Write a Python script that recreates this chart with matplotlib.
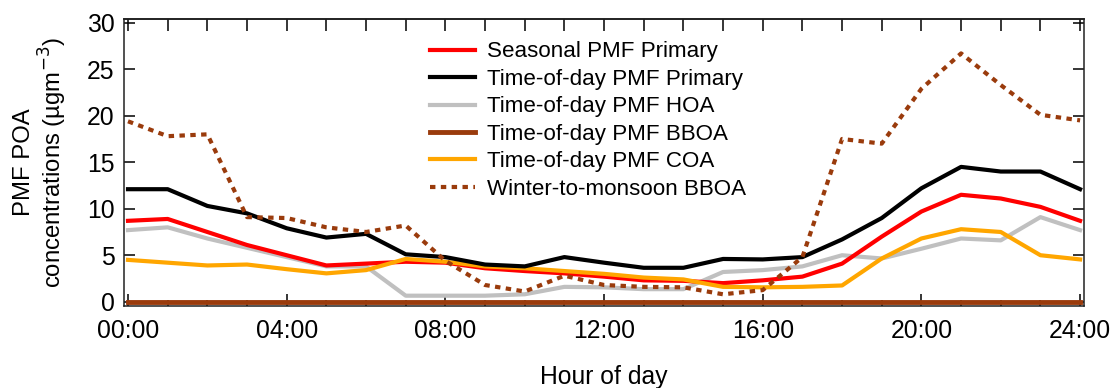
import numpy as np
import matplotlib
matplotlib.use("Agg")
import matplotlib.pyplot as plt
from matplotlib.ticker import MultipleLocator

plt.rcParams['font.family'] = ['Liberation Sans', 'DejaVu Sans']

hours = np.arange(25)
seasonal_primary = [8.7, 8.9, 7.5, 6.1, 5.0, 3.9, 4.1, 4.3, 4.2, 3.6, 3.3, 3.05, 2.7,
                    2.3, 2.25, 2.0, 2.3, 2.7, 4.1, 7.0, 9.7, 11.5, 11.1, 10.2, 8.7]
tod_primary = [12.1, 12.1, 10.3, 9.5, 7.9, 6.9, 7.3, 5.1, 4.8, 4.0, 3.8, 4.8, 4.2,
               3.65, 3.65, 4.6, 4.55, 4.8, 6.7, 9.0, 12.2, 14.5, 14.0, 14.0, 12.1]
tod_hoa = [7.7, 8.0, 6.8, 5.8, 4.8, 3.8, 3.8, 0.65, 0.65, 0.65, 0.8, 1.6, 1.55,
           1.35, 1.35, 3.2, 3.4, 3.8, 5.0, 4.65, 5.7, 6.8, 6.6, 9.1, 7.7]
tod_bboa = [0.0] * 25
tod_coa = [4.5, 4.2, 3.9, 4.0, 3.5, 3.05, 3.4, 4.6, 4.3, 3.8, 3.6, 3.3, 3.0,
           2.6, 2.4, 1.6, 1.55, 1.6, 1.75, 4.65, 6.8, 7.8, 7.5, 5.0, 4.55]
winter_bboa = [19.4, 17.8, 18.0, 9.1, 9.0, 8.0, 7.5, 8.2, 4.4, 1.8, 1.1, 2.8, 1.8,
               1.6, 1.55, 0.8, 1.25, 4.8, 17.5, 17.0, 22.9, 26.7, 23.3, 20.1, 19.5]

xtick_labels = ['00:00', '04:00', '08:00', '12:00', '16:00', '20:00', '24:00']

fs = 17.8
fig = plt.figure(figsize=(11.13, 3.88), dpi=100)
ax = fig.add_axes([0.1117, 0.2113, 0.8623, 0.7390])

lw = 3
brown = '#9a3b0c'
ax.plot(hours, tod_hoa, color='#c0c0c0', lw=lw, label='Time-of-day PMF HOA', zorder=2)
ax.plot(hours, seasonal_primary, color='#ff0000', lw=lw, label='Seasonal PMF Primary', zorder=3)
ax.plot(hours, tod_coa, color='#ffa600', lw=lw, label='Time-of-day PMF COA', zorder=4)
ax.plot(hours, tod_primary, color='black', lw=lw, label='Time-of-day PMF Primary', zorder=5)
ax.plot(hours, tod_bboa, color=brown, lw=3.5, label='Time-of-day PMF BBOA', zorder=6)
ax.plot(hours, winter_bboa, color=brown, lw=lw, ls=(0, (1.3, 1.3)),
        label='Winter-to-monsoon BBOA', zorder=7)

ax.set_xlim(-0.093, 24.1)
ax.set_ylim(-0.46, 30.37)

ax.set_xticks(np.arange(0, 25, 4))
ax.set_xticklabels(xtick_labels)
ax.xaxis.set_minor_locator(MultipleLocator(1))
ax.yaxis.set_major_locator(MultipleLocator(5))

ax.tick_params(axis='x', which='major', direction='in', length=8.6, width=1.1,
               labelsize=fs, pad=9, top=False)
ax.tick_params(axis='x', which='minor', direction='in', length=4.5, width=1.1, top=False)
ax.tick_params(axis='y', which='major', direction='in', length=8, width=1.1,
               labelsize=fs, right=True, pad=7)

top = ax.secondary_xaxis('top')
top.xaxis.set_major_locator(MultipleLocator(1))
top.tick_params(direction='in', length=8.6, width=1.1, labeltop=False)
top.spines['top'].set_linewidth(1.1)

for s in ax.spines.values():
    s.set_linewidth(1.1)
    s.set_color('#222222')

ax.set_xlabel('Hour of day', fontsize=fs, labelpad=16)
ax.set_ylabel('PMF POA\nconcentrations (µgm$^{-3}$)', fontsize=17.2, labelpad=13,
              linespacing=1.08)

handles, labels = ax.get_legend_handles_labels()
order = ['Seasonal PMF Primary', 'Time-of-day PMF Primary', 'Time-of-day PMF HOA',
         'Time-of-day PMF BBOA', 'Time-of-day PMF COA', 'Winter-to-monsoon BBOA']
hmap = dict(zip(labels, handles))
ax.legend([hmap[k] for k in order], order, loc='upper left',
          bbox_to_anchor=(0.3185, 0.923), frameon=False, fontsize=16.1,
          handlelength=2.0, handletextpad=0.54, labelspacing=0.29,
          borderaxespad=0, borderpad=0)

fig.savefig('out.png', dpi=100)
